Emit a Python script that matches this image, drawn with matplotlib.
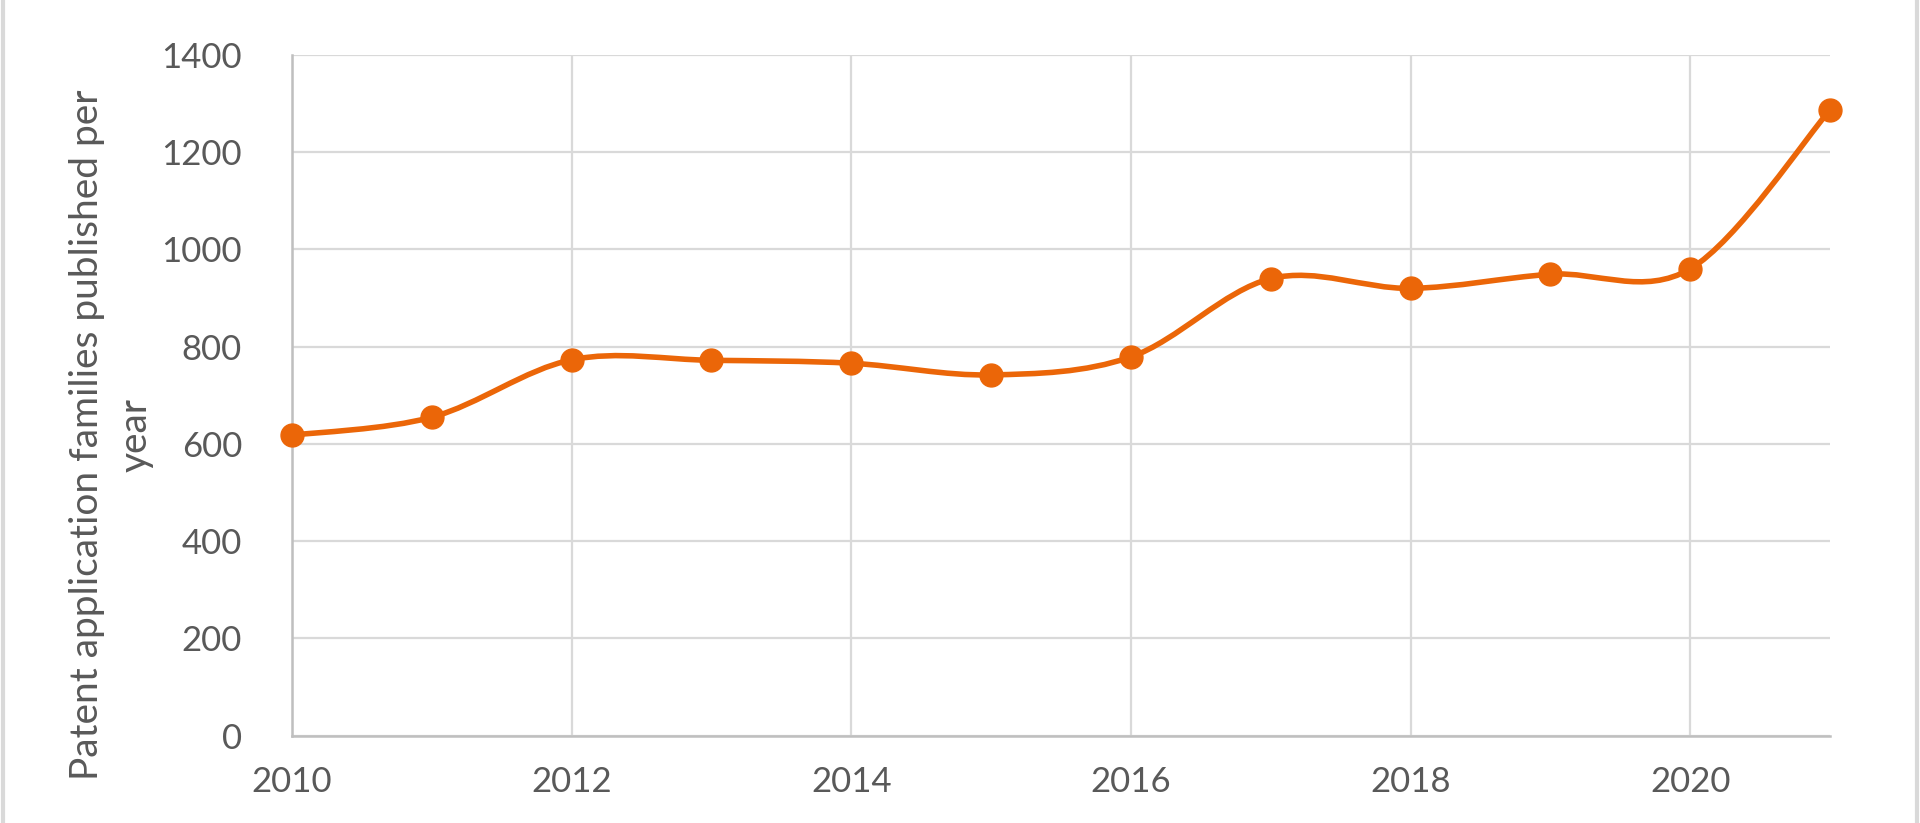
import numpy as np
import matplotlib.pyplot as plt
from matplotlib.path import Path
from matplotlib.patches import PathPatch
from matplotlib.lines import Line2D

years = [2010, 2011, 2012, 2013, 2014, 2015, 2016, 2017, 2018, 2019, 2020, 2021]
families = [618, 655, 773, 772, 766, 742, 779, 940, 920, 949, 960, 1287]
x_ticks = [2010, 2012, 2014, 2016, 2018, 2020]
y_ticks = [0, 200, 400, 600, 800, 1000, 1200, 1400]
y_label = "Patent application families published per\nyear"

orange = "#EB6608"
grey_text = "#595959"

plt.rcParams['font.family'] = ['Lato', 'DejaVu Sans']


def smooth_path(xs, ys):
	# catmull-rom style bezier like a spreadsheet "smoothed line"
	pts = np.column_stack([xs, ys]).astype(float)
	n = len(pts)
	verts = [pts[0]]
	codes = [Path.MOVETO]
	for i in range(n - 1):
		p0 = pts[i - 1] if i > 0 else pts[i]
		p1 = pts[i]
		p2 = pts[i + 1]
		p3 = pts[i + 2] if i + 2 < n else pts[i + 1]
		c1 = p1 + (p2 - p0) / 6.0
		c2 = p2 - (p3 - p1) / 6.0
		verts += [c1, c2, p2]
		codes += [Path.CURVE4] * 3
	return Path(verts, codes)


fig = plt.figure(figsize=(19.2, 8.23), dpi=100)
ax = fig.add_axes([0.1521, 0.1061, 0.8010, 0.8271])

patch = PathPatch(smooth_path(years, families), facecolor='none', edgecolor=orange,
	linewidth=4, capstyle='round', joinstyle='round', zorder=3)
ax.add_patch(patch)
ax.plot(years, families, 'o', color=orange, markersize=16.5, zorder=4, clip_on=False)

ax.set_xlim(2010, 2021)
ax.set_ylim(0, 1400)
ax.set_xticks(x_ticks)
ax.set_yticks(y_ticks)
ax.grid(True, color='#D9D9D9', linewidth=1.6, zorder=0)
ax.set_axisbelow(True)
for s in ['top', 'right']:
	ax.spines[s].set_visible(False)
for s in ['left', 'bottom']:
	ax.spines[s].set_color('#BFBFBF')
	ax.spines[s].set_linewidth(1.8)
ax.tick_params(length=0, labelsize=25, labelcolor=grey_text)
ax.tick_params(axis='y', pad=36)
ax.tick_params(axis='x', pad=22)

fig.text(0.058, 0.4715, y_label, rotation=90, ha='center', va='center',
	multialignment='center', fontsize=28, color=grey_text, linespacing=1.45)

# thin frame lines at the left and right edges
fig.add_artist(Line2D([0.0015, 0.0015], [0, 1], color='#D9D9D9', linewidth=3, transform=fig.transFigure))
fig.add_artist(Line2D([0.9985, 0.9985], [0, 1], color='#D9D9D9', linewidth=3, transform=fig.transFigure))

fig.savefig('out.png', dpi=100, facecolor='white')
